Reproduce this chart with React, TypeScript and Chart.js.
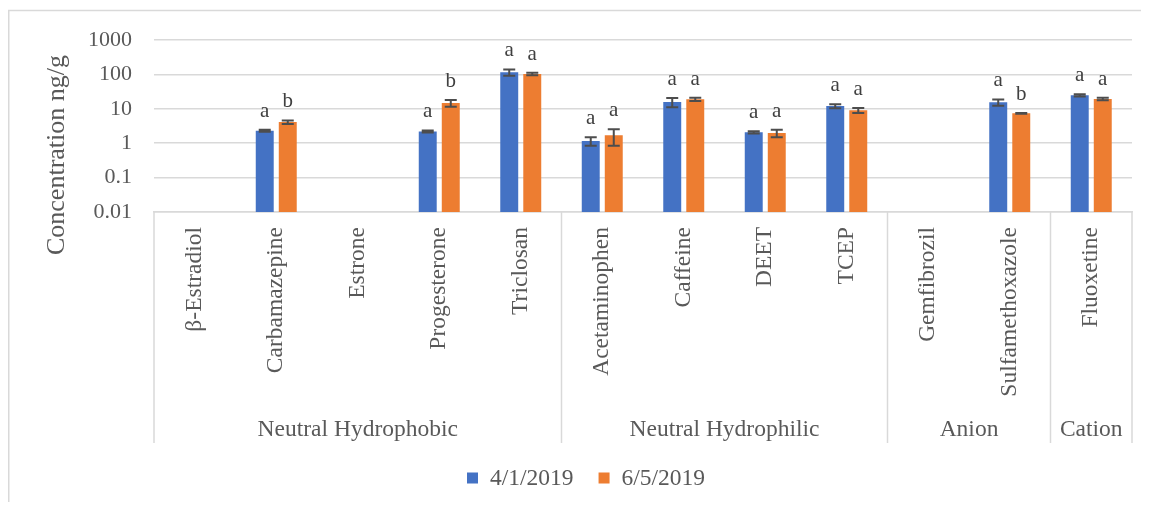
import React, { useEffect, useRef } from "react";
import { Chart, registerables } from "chart.js";

Chart.register(...registerables);

const categories = [
  "β-Estradiol",
  "Carbamazepine",
  "Estrone",
  "Progesterone",
  "Triclosan",
  "Acetaminophen",
  "Caffeine",
  "DEET",
  "TCEP",
  "Gemfibrozil",
  "Sulfamethoxazole",
  "Fluoxetine",
];
const groupLabels = ["Neutral Hydrophobic", "Neutral Hydrophilic", "Anion", "Cation"];
const groupSizes = [5, 4, 2, 1];
const seriesLabels = ["4/1/2019", "6/5/2019"];
const valuesApr = [null, 2.3, null, 2.2, 115, 1.16, 15.8, 2.07, 12.0, null, 15.5, 24.6];
const valuesJun = [null, 4.1, null, 14.7, 103, 1.69, 18.9, 1.98, 9.0, null, 7.4, 19.3];
const errApr = [null, 0.15, null, 0.15, 24, 0.32, 4.7, 0.15, 1.6, null, 3.2, 2];
const errJun = [null, 0.5, null, 3.3, 8, 0.85, 2, 0.5, 1.5, null, 0.2, 1.5];
const lettersApr = ["", "a", "", "a", "a", "a", "a", "a", "a", "", "a", "a"];
const lettersJun = ["", "b", "", "b", "a", "a", "a", "a", "a", "", "b", "a"];
const yTicks = [0.01, 0.1, 1, 10, 100, 1000];
const yTitle = "Concentration ng/g";

const FONT = '"Liberation Serif", "Times New Roman", serif';
const TEXT = "#595959";
const GRID = "#d9d9d9";
const COLORS = ["#4472C4", "#ED7D31"];

const errs = [errApr, errJun];
const letters = [lettersApr, lettersJun];

const decorPlugin = {
  id: "decor",
  afterDatasetsDraw(chart: any) {
    const ctx = chart.ctx;
    const y = chart.scales.y;
    ctx.save();
    chart.data.datasets.forEach((ds: any, di: number) => {
      const meta = chart.getDatasetMeta(di);
      ds.data.forEach((v: any, j: number) => {
        if (v == null) return;
        const bar = meta.data[j];
        const e = errs[di][j] || 0;
        const yHi = y.getPixelForValue(v + e);
        const yLo = y.getPixelForValue(Math.max(v - e, 0.0001));
        ctx.strokeStyle = "#4d4d4d";
        ctx.lineWidth = 2;
        ctx.beginPath();
        ctx.moveTo(bar.x, yHi);
        ctx.lineTo(bar.x, yLo);
        ctx.moveTo(bar.x - 6, yHi);
        ctx.lineTo(bar.x + 6, yHi);
        ctx.moveTo(bar.x - 6, yLo);
        ctx.lineTo(bar.x + 6, yLo);
        ctx.stroke();
        const t = letters[di][j];
        if (t) {
          ctx.fillStyle = "#404040";
          ctx.font = `21px ${FONT}`;
          ctx.textAlign = "center";
          ctx.textBaseline = "alphabetic";
          ctx.fillText(t, bar.x, yHi - 13);
        }
      });
    });
    ctx.restore();
  },
  afterDraw(chart: any) {
    const ctx = chart.ctx;
    const x = chart.scales.x;
    const area = chart.chartArea;
    ctx.save();
    // outer border
    ctx.strokeStyle = GRID;
    ctx.lineWidth = 1.5;
    ctx.beginPath();
    ctx.moveTo(0.75, chart.height);
    ctx.lineTo(0.75, 2.5);
    ctx.lineTo(chart.width, 2.5);
    ctx.stroke();

    // group separators and labels
    let k = 0;
    const bounds = [0];
    groupSizes.forEach((s) => {
      k += s;
      bounds.push(k);
    });
    ctx.strokeStyle = GRID;
    ctx.lineWidth = 1.5;
    ctx.beginPath();
    bounds.forEach((b) => {
      const px = x.getPixelForValue(b - 0.5);
      ctx.moveTo(px, area.bottom);
      ctx.lineTo(px, 435);
    });
    ctx.stroke();
    ctx.fillStyle = TEXT;
    ctx.font = `23.5px ${FONT}`;
    ctx.textAlign = "center";
    ctx.textBaseline = "middle";
    groupLabels.forEach((g, i) => {
      const a = x.getPixelForValue(bounds[i] - 0.5);
      const b = x.getPixelForValue(bounds[i + 1] - 0.5);
      ctx.fillText(g, (a + b) / 2, 422);
    });

    // legend
    ctx.font = `23.5px ${FONT}`;
    ctx.textAlign = "left";
    ctx.textBaseline = "middle";
    let lx = 459;
    const ly = 470;
    seriesLabels.forEach((s, i) => {
      ctx.fillStyle = COLORS[i];
      ctx.fillRect(lx, ly - 5.5, 11, 11);
      ctx.fillStyle = TEXT;
      ctx.fillText(s, lx + 23, ly + 1);
      lx += 23 + ctx.measureText(s).width + 25;
    });

    // y title
    ctx.translate(49, 147);
    ctx.rotate(-Math.PI / 2);
    ctx.font = `26px ${FONT}`;
    ctx.textAlign = "center";
    ctx.textBaseline = "middle";
    ctx.fillStyle = TEXT;
    ctx.fillText(yTitle, 0, 0);
    ctx.restore();
  },
};

export default function App() {
  const ref = useRef<HTMLCanvasElement | null>(null);
  useEffect(() => {
    if (!ref.current) return;
    const chart = new Chart(ref.current, {
      type: "bar",
      data: {
        labels: categories,
        datasets: [
          {
            label: seriesLabels[0],
            data: valuesApr as any,
            backgroundColor: COLORS[0],
            categoryPercentage: 0.565,
            barPercentage: 0.78,
          },
          {
            label: seriesLabels[1],
            data: valuesJun as any,
            backgroundColor: COLORS[1],
            categoryPercentage: 0.565,
            barPercentage: 0.78,
          },
        ],
      },
      options: {
        responsive: false,
        animation: false,
        devicePixelRatio: 1,
        layout: { padding: { top: 32, right: 9, left: 0, bottom: 0 } },
        plugins: {
          legend: { display: false },
          tooltip: { enabled: false },
        },
        scales: {
          x: {
            grid: { display: false },
            border: { display: true, color: GRID, width: 1.5 },
            ticks: {
              color: TEXT,
              font: { family: FONT, size: 23.5 },
              minRotation: 90,
              maxRotation: 90,
              autoSkip: false,
              padding: 7,
            },
            afterFit: (s: any) => {
              s.height = 290;
              s.paddingTop = 0;
              s.paddingBottom = 0;
            },
          },
          y: {
            type: "logarithmic",
            min: 0.01,
            max: 1000,
            grid: { color: GRID, lineWidth: 1.5, drawTicks: false },
            border: { display: false },
            ticks: {
              color: TEXT,
              font: { family: FONT, size: 22 },
              padding: 22,
              callback: (v: any) => String(v),
            },
            afterBuildTicks: (s: any) => {
              s.ticks = yTicks.map((v) => ({ value: v }));
            },
            afterFit: (s: any) => {
              s.width = 146;
              s.paddingTop = 0;
              s.paddingBottom = 0;
            },
          },
        },
      },
      plugins: [decorPlugin],
    });
    return () => chart.destroy();
  }, []);
  return (
    <div style={{ width: 1133, height: 494 }}>
      <canvas ref={ref} width={1133} height={494} style={{ display: "block" }} />
    </div>
  );
}
